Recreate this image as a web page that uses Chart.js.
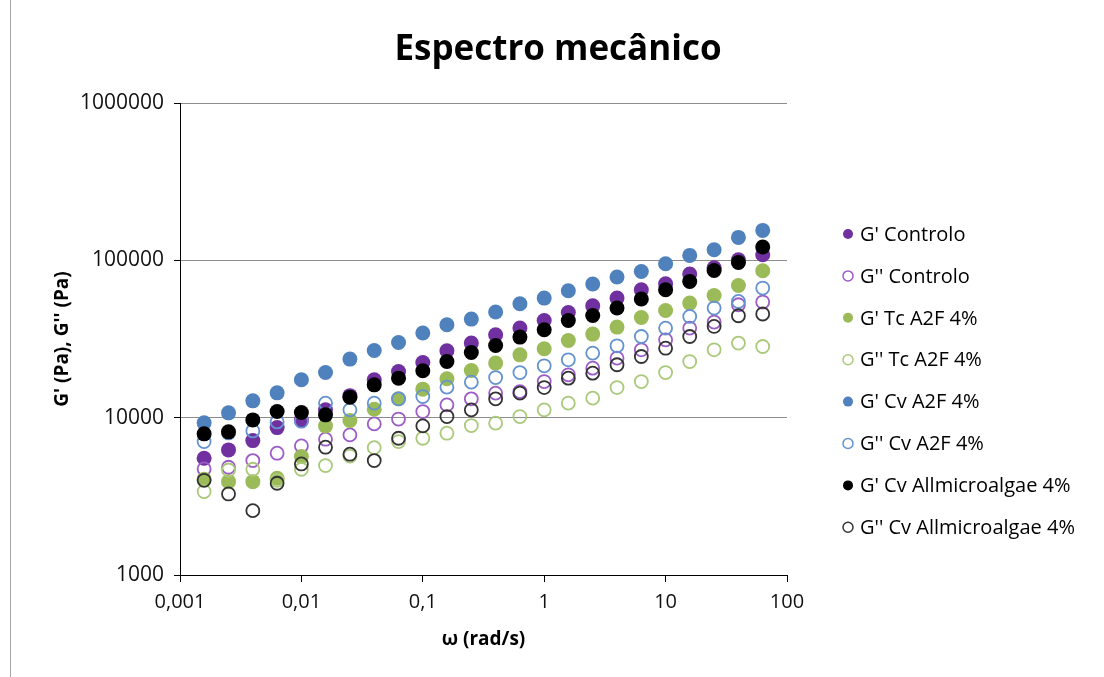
<!DOCTYPE html>
<html>
<head>
<meta charset="utf-8">
<title>Espectro mecânico</title>
<script src="https://cdn.jsdelivr.net/npm/chart.js@4.4.1/dist/chart.umd.min.js"></script>
<style>
  body { margin: 0; background: #fff; }
  #wrap { position: relative; width: 1104px; height: 677px; }
  #frame { position: absolute; left: 10px; top: 0; width: 1px; height: 677px; background: #a6a6a6; }
  canvas { position: absolute; left: 0; top: 0; }
</style>
</head>
<body>
<div id="wrap">
  <canvas id="chart" width="1104" height="677"></canvas>
  <div id="frame"></div>
</div>
<script>
// frequency (rad/s)
const omega = [0.00158, 0.00251, 0.00398, 0.00631, 0.01, 0.0158, 0.0251, 0.0398, 0.0631, 0.1,
  0.158, 0.251, 0.398, 0.631, 1, 1.58, 2.51, 3.98, 6.31, 10, 15.8, 25.1, 39.8, 63.1];

// G' and G'' (Pa)
const gpControlo = [5525, 6240, 7150, 8650, 9680, 11210, 13800, 17400, 19650, 22410, 26600, 29780,
  33630, 37080, 41470, 46640, 51420, 57560, 65030, 71000, 81800, 89700, 100900, 108500];
const gppControlo = [4720, 4840, 5335, 5945, 6615, 7300, 7775, 9130, 9800, 10940, 12060, 13170,
  14320, 14660, 16970, 18720, 20640, 23900, 27000, 31260, 37080, 40510, 52190, 54290];
const gpTc = [4060, 3920, 3920, 4120, 5655, 8870, 9590, 11320, 13170, 15180, 17660, 19940,
  22220, 25080, 27400, 30940, 33970, 37650, 43340, 48020, 53500, 59800, 69200, 85900];
const gppTc = [3390, 4650, 4700, 4000, 4700, 4960, 5700, 6450, 7050, 7400, 7970, 8910,
  9230, 10160, 11210, 12370, 13310, 15540, 16970, 19360, 22740, 27000, 29780, 28330];
const gpCv = [9270, 10730, 12790, 14380, 17400, 19360, 23560, 26700, 30050, 34490, 38930, 42330,
  46900, 52960, 57560, 64070, 70660, 78300, 85000, 95100, 107500, 116800, 139900, 155000];
const gppCv = [7050, 8000, 8240, 9400, 9500, 12370, 11210, 12370, 13170, 13620, 15630, 16820,
  17990, 19360, 21360, 23320, 25720, 28620, 32800, 37080, 43980, 49730, 54780, 66650];
const gpAllm = [7890, 8125, 9680, 10940, 10780, 10420, 13500, 16170, 17830, 19850, 22740, 25960,
  28740, 32520, 36190, 41470, 44630, 49730, 56740, 65030, 73400, 86250, 97000, 121500];
const gppAllm = [4000, 3275, 2565, 3830, 5080, 6490, 5860, 5335, 7400, 8870, 10160, 11210,
  13170, 14320, 15540, 17830, 19180, 21690, 24480, 27630, 32800, 38000, 44450, 45600];

const seriesNames = ["G' Controlo", "G'' Controlo", "G' Tc A2F 4%", "G'' Tc A2F 4%",
  "G' Cv A2F 4%", "G'' Cv A2F 4%", "G' Cv Allmicroalgae 4%", "G'' Cv Allmicroalgae 4%"];
const seriesValues = [gpControlo, gppControlo, gpTc, gppTc, gpCv, gppCv, gpAllm, gppAllm];
const seriesColors = ['#7030a0', '#9c5cc8', '#9bbb59', '#aac97a', '#4f81bd', '#6493d0', '#000000', '#333333'];

const xTicks = [0.001, 0.01, 0.1, 1, 10, 100];
const xTickLabels = ['0,001', '0,01', '0,1', '1', '10', '100'];
const yTicks = [1000, 10000, 100000, 1000000];
const yTickLabels = ['1000', '10000', '100000', '1000000'];

Chart.defaults.font.family = '"Open Sans"';
Chart.defaults.color = '#000';

const datasets = seriesNames.map((name, i) => {
  const open = i % 2 === 1;
  return {
    label: name,
    data: omega.map((w, j) => ({x: w, y: seriesValues[i][j]})),
    backgroundColor: open ? 'rgba(0,0,0,0)' : seriesColors[i],
    borderColor: seriesColors[i],
    borderWidth: open ? 1.8 : 0,
    pointRadius: open ? 6.5 : 7.5,
    pointHoverRadius: open ? 6.5 : 7.5,
    order: seriesNames.length - 1 - i  // later series on top, like the original
  };
});

// legend on the right, one row per series
const sideLegend = {
  id: 'sideLegend',
  afterDraw(chart) {
    const ctx = chart.ctx;
    ctx.save();
    ctx.font = '20px "Open Sans"';
    ctx.textBaseline = 'middle';
    chart.data.datasets.forEach((ds, i) => {
      const y = 234 + i * 41.9;
      ctx.beginPath();
      ctx.arc(848, y, 5, 0, Math.PI * 2);
      ctx.fillStyle = ds.backgroundColor;
      ctx.fill();
      if (ds.borderWidth) {
        ctx.lineWidth = 1.5;
        ctx.strokeStyle = ds.borderColor;
        ctx.stroke();
      }
      ctx.fillStyle = '#000';
      ctx.fillText(ds.label, 860, y + 1);
    });
    ctx.restore();
  }
};

new Chart(document.getElementById('chart'), {
  type: 'scatter',
  data: {datasets: datasets},
  plugins: [sideLegend],
  options: {
    responsive: false,
    devicePixelRatio: 1,
    animation: false,
    layout: {padding: {left: 12, right: 0, top: 0, bottom: 0}},
    plugins: {
      legend: {display: false},
      tooltip: {enabled: false},
      title: {
        display: true,
        text: 'Espectro mecânico',
        color: '#000',
        font: {size: 35, weight: 'bold'},
        padding: {top: 29, bottom: 32}
      }
    },
    scales: {
      x: {
        type: 'logarithmic',
        min: 0.001,
        max: 100,
        afterBuildTicks: s => { s.ticks = xTicks.map(v => ({value: v})); },
        afterFit: s => { s.height = 102; },
        ticks: {
          autoSkip: false,
          maxRotation: 0,
          padding: 8,
          font: {size: 20},
          color: '#111',
          callback: (v, i) => xTickLabels[i]
        },
        grid: {drawOnChartArea: false, tickColor: '#000', tickLength: 7},
        border: {color: '#000', width: 1},
        title: {
          display: true,
          text: 'ω (rad/s)',
          font: {size: 19, weight: 'bold'},
          color: '#000',
          padding: {bottom: 26}
        }
      },
      y: {
        type: 'logarithmic',
        min: 1000,
        max: 1000000,
        afterBuildTicks: s => { s.ticks = yTicks.map(v => ({value: v})); },
        afterFit: s => { s.width = 168; },
        ticks: {
          autoSkip: false,
          padding: 10,
          font: {size: 21},
          color: '#111',
          callback: (v, i) => yTickLabels[i]
        },
        grid: {color: '#8c8c8c', lineWidth: 1, tickColor: '#000', tickLength: 6},
        border: {color: '#000', width: 1},
        title: {
          display: true,
          text: "G' (Pa), G'' (Pa)",
          font: {size: 19, weight: 'bold'},
          color: '#000',
          padding: {top: 39}
        }
      },
      // empty box on the right that keeps room for the legend
      legendSpace: {
        position: 'right',
        type: 'linear',
        display: true,
        ticks: {display: false},
        grid: {display: false},
        border: {display: false},
        afterFit: s => { s.width = 317; }
      }
    }
  }
});
</script>
</body>
</html>
